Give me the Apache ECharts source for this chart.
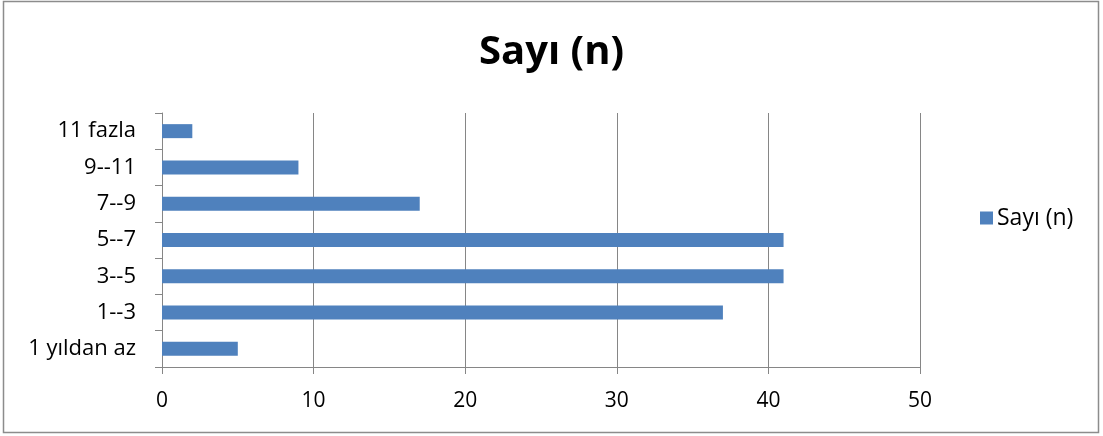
<!DOCTYPE html>
<html><head><meta charset="utf-8">
<script src="https://cdn.jsdelivr.net/npm/echarts@6/dist/echarts.min.js"></script>
<style>html,body{margin:0;padding:0;background:#fff}#c{width:1103px;height:436px}</style>
</head><body><div id="c"></div>
<script>
const categories = ["1 yıldan az", "1--3", "3--5", "5--7", "7--9", "9--11", "11 fazla"];
const values = [5, 37, 41, 41, 17, 9, 2];
const seriesName = "Sayı (n)";
const titleText = "Sayı (n)";

const chart = echarts.init(document.getElementById('c'), null, {renderer: 'canvas'});
const font = "'Open Sans', sans-serif";
chart.setOption({
  animation: false,
  backgroundColor: '#fff',
  textStyle: {fontFamily: font},
  title: {text: titleText, left: 'center', top: 28,
    textStyle: {fontSize: 40, fontWeight: 'bold', color: '#000', fontFamily: font}},
  graphic: [{type: 'rect', shape: {x: 3.5, y: 1.5, width: 1095, height: 431},
    style: {fill: 'none', stroke: '#8c8c8c', lineWidth: 1.5}, silent: true}],
  legend: {orient: 'vertical', left: 975, top: 'middle', itemWidth: 13, itemHeight: 13,
    icon: 'rect', itemGap: 6, data: [seriesName],
    textStyle: {fontSize: 23, color: '#000', fontFamily: font, padding: [0,0,0,-1]}},
  grid: {left: 162, right: 183, top: 113, bottom: 69, containLabel: false},
  xAxis: {type: 'value', min: 0, max: 50, interval: 10,
    axisLine: {show: true, lineStyle: {color: '#868686', width: 1}},
    axisTick: {show: true, length: 7, lineStyle: {color: '#868686'}},
    axisLabel: {fontSize: 21, color: '#000', margin: 24, fontFamily: font},
    splitLine: {show: true, lineStyle: {color: '#868686', width: 1}}},
  yAxis: {type: 'category', data: categories,
    axisLine: {show: true, lineStyle: {color: '#868686', width: 1}},
    axisTick: {show: true, length: 7, alignWithLabel: false, lineStyle: {color: '#868686'}},
    axisLabel: {fontSize: 22, color: '#000', margin: 26, fontFamily: font}},
  series: [{name: seriesName, type: 'bar', data: values, barWidth: 14,
    itemStyle: {color: '#4F81BD'}}]
});
</script></body></html>
